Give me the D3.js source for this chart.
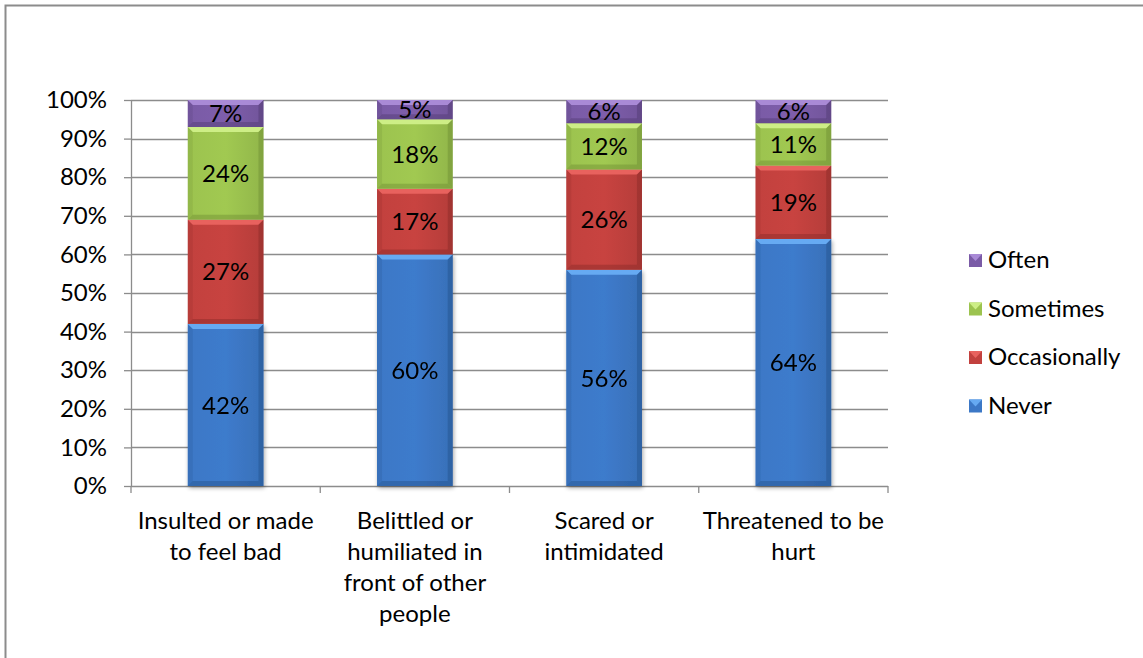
<!DOCTYPE html>
<html><head><meta charset="utf-8">
<script src="https://cdn.jsdelivr.net/npm/d3@7"></script>
<style>
html,body{margin:0;padding:0;background:#fff;}
svg{display:block;}
text{font-family:Lato,"Open Sans",sans-serif;fill:#000;}
</style></head>
<body><svg id="c" width="1143" height="658"></svg>
<script>
const categories = [["Insulted or made","to feel bad"],["Belittled or","humiliated in","front of other","people"],["Scared or","intimidated"],["Threatened to be","hurt"]];
const seriesNames = ["Never","Occasionally","Sometimes","Often"];
const never = [42,60,56,64];
const occasionally = [27,17,26,19];
const sometimes = [24,18,12,11];
const often = [7,5,6,6];
const yTicks = [0,10,20,30,40,50,60,70,80,90,100];
const colors = {Never:{main:"#3c78c6",light:"#66aaf2",dark:"#24528c"},
  Occasionally:{main:"#c2413e",light:"#e8625e",dark:"#8a2a28"},
  Sometimes:{main:"#9cc34f",light:"#cdee86",dark:"#6e8d32"},
  Often:{main:"#7a5ba6",light:"#a98ad6",dark:"#4f3a72"}};
const FS = 24;

(function(){
const svg = d3.select("#c");
svg.append("rect").attr("x",5.5).attr("y",5.5).attr("width",1200).attr("height",700)
  .attr("fill","none").attr("stroke","#8c8c8c").attr("stroke-width",2);

const pLeft=131, pRight=888, pTop=100, pBottom=486;
const x = d3.scaleBand().domain(d3.range(categories.length)).range([pLeft,pRight]).paddingInner(0.6).paddingOuter(0.3);
const y = d3.scaleLinear().domain([0,100]).range([pBottom,pTop]);

const defs = svg.append("defs");
const f = defs.append("filter").attr("id","sh").attr("x","-20%").attr("y","-20%").attr("width","140%").attr("height","140%");
f.append("feGaussianBlur").attr("in","SourceAlpha").attr("stdDeviation",2);
f.append("feOffset").attr("dx",1).attr("dy",2).attr("result","o");
f.append("feComponentTransfer").append("feFuncA").attr("type","linear").attr("slope",0.35);
const m=f.append("feMerge"); m.append("feMergeNode"); m.append("feMergeNode").attr("in","SourceGraphic");

seriesNames.forEach(s=>{
  const g = defs.append("linearGradient").attr("id","g"+s).attr("x1","0").attr("x2","1").attr("y1","0").attr("y2","0");
  g.append("stop").attr("offset","0").attr("stop-color",colors[s].main);
  g.append("stop").attr("offset","0.5").attr("stop-color",d3.color(colors[s].main).brighter(0.08));
  g.append("stop").attr("offset","1").attr("stop-color",d3.color(colors[s].main).darker(0.2));
});

// grid
const grid = svg.append("g");
grid.selectAll("line").data(yTicks.filter(d=>d>0)).join("line")
  .attr("x1",pLeft).attr("x2",pRight).attr("y1",d=>Math.round(y(d))+0.5).attr("y2",d=>Math.round(y(d))+0.5)
  .attr("stroke","#8c8c8c").attr("stroke-width",1.3);

// y axis
const ya = svg.append("g").attr("transform",`translate(${pLeft},0)`)
  .call(d3.axisLeft(y).tickValues(yTicks).tickFormat(d=>d+"%").tickSize(7).tickSizeOuter(0).tickPadding(17));
ya.select(".domain").attr("stroke","#8c8c8c").attr("stroke-width",1.3);
ya.selectAll(".tick line").attr("stroke","#8c8c8c").attr("stroke-width",1.3);
ya.selectAll("text").attr("font-size",FS).style("font-family","Lato").attr("fill","#000");

// x axis
const xa = svg.append("g").attr("transform",`translate(0,${pBottom})`);
xa.append("line").attr("x1",pLeft).attr("x2",pRight).attr("y1",0.5).attr("y2",0.5).attr("stroke","#8c8c8c").attr("stroke-width",1.3);
xa.selectAll("line.t").data(d3.range(categories.length+1)).join("line").attr("class","t")
  .attr("x1",i=>pLeft+i*x.step()).attr("x2",i=>pLeft+i*x.step())
  .attr("y1",0).attr("y2",7).attr("stroke","#8c8c8c").attr("stroke-width",1.3);
const xl = xa.selectAll("text").data(categories).join("text")
  .attr("text-anchor","middle").attr("font-size",FS)
  .attr("transform",(d,i)=>`translate(${x(i)+x.bandwidth()/2},43)`);
xl.selectAll("tspan").data(d=>d).join("tspan").attr("x",0).attr("dy",(d,j)=>j===0?0:31).text(d=>d);

// stacked data
const rows = categories.map((c,i)=>({i, Never:never[i], Occasionally:occasionally[i], Sometimes:sometimes[i], Often:often[i]}));
const stack = d3.stack().keys(seriesNames)(rows);

const bars = svg.append("g");
stack.forEach(layer=>{
  const s = layer.key;
  layer.forEach(d=>{
    const i=d.data.i;
    const x0=x(i), w=x.bandwidth(), y0=y(d[1]), h=y(d[0])-y(d[1]);
    const gg = bars.append("g");
    if(s==="Never") gg.attr("filter","url(#sh)");
    gg.append("rect").attr("x",x0).attr("y",y0).attr("width",w).attr("height",h).attr("fill",`url(#g${s})`);
    const b=Math.min(5,h/3);
    gg.append("path").attr("d",`M${x0},${y0}L${x0+w},${y0}L${x0+w-b},${y0+b}L${x0+b},${y0+b}Z`).attr("fill",colors[s].light);
    gg.append("path").attr("d",`M${x0},${y0+h}L${x0+w},${y0+h}L${x0+w-b},${y0+h-b}L${x0+b},${y0+h-b}Z`).attr("fill",colors[s].dark).attr("opacity",0.45);
    gg.append("path").attr("d",`M${x0},${y0}L${x0+b},${y0+b}L${x0+b},${y0+h-b}L${x0},${y0+h}Z`).attr("fill",colors[s].dark).attr("opacity",0.2);
    gg.append("path").attr("d",`M${x0+w},${y0}L${x0+w-b},${y0+b}L${x0+w-b},${y0+h-b}L${x0+w},${y0+h}Z`).attr("fill",colors[s].dark).attr("opacity",0.45);
    gg.append("text").attr("x",x0+w/2).attr("y",y0+h/2).attr("dy","0.36em").attr("text-anchor","middle")
      .attr("font-size",FS).text(d.data[s]+"%");
  });
});

// legend
const legendOrder = ["Often","Sometimes","Occasionally","Never"];
const lg = svg.append("g").attr("transform","translate(969,260)");
legendOrder.forEach((s,k)=>{
  const g = lg.append("g").attr("transform",`translate(0,${k*48.5})`);
  g.append("rect").attr("x",0).attr("y",-6).attr("width",13).attr("height",13).attr("fill",colors[s].main);
  g.append("path").attr("d","M0,-6L13,-6L6.5,1Z").attr("fill",colors[s].light);
  g.append("text").attr("x",19).attr("y",0).attr("dy","0.35em").attr("font-size",FS).text(s);
});
})();
</script></body></html>
